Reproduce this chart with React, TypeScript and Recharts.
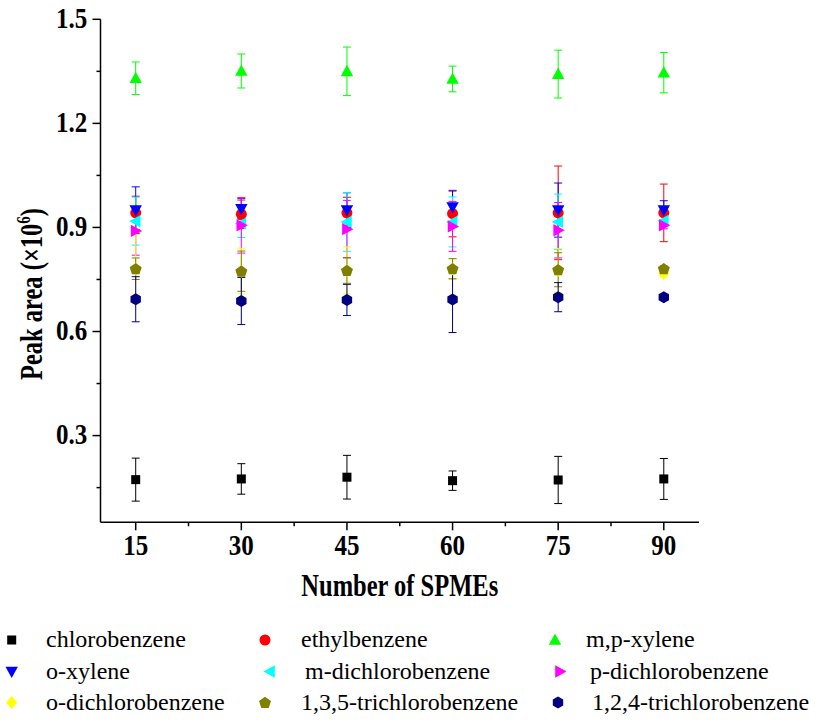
import React from 'react';
import { ScatterChart, Scatter, XAxis, YAxis, ErrorBar } from 'recharts';

// ---- data ----
const xValues = [15, 30, 45, 60, 75, 90];
const xTicks = [15, 22.5, 30, 37.5, 45, 52.5, 60, 67.5, 75, 82.5, 90];
const yTicks = [0.15, 0.3, 0.45, 0.6, 0.75, 0.9, 1.05, 1.2, 1.35, 1.5];

const seriesNames = [
  'chlorobenzene', 'ethylbenzene', 'm,p-xylene',
  'o-xylene', 'm-dichlorobenzene', 'p-dichlorobenzene',
  'o-dichlorobenzene', '1,3,5-trichlorobenzene', '1,2,4-trichlorobenzene',
];

const chlorobenzeneMean = [0.173, 0.175, 0.18, 0.17, 0.172, 0.175];
const chlorobenzeneErr = [0.062, 0.044, 0.063, 0.028, 0.068, 0.059];
const ethylbenzeneMean = [0.942, 0.938, 0.942, 0.94, 0.942, 0.942];
const ethylbenzeneErr = [0.048, 0.041, 0.045, 0.067, 0.135, 0.083];
const mpXyleneMean = [1.33, 1.351, 1.35, 1.328, 1.342, 1.346];
const mpXyleneErr = [0.047, 0.049, 0.07, 0.037, 0.069, 0.058];
const oXyleneMean = [0.95, 0.954, 0.95, 0.959, 0.95, 0.95];
const oXyleneErr = [0.067, 0.03, 0.05, 0.046, 0.078, 0.027];
const mDcbMean = [0.918, 0.911, 0.916, 0.916, 0.916, 0.919];
const mDcbErr = [0.069, 0.04, 0.085, 0.072, 0.08, 0.015];
const pDcbMean = [0.89, 0.906, 0.895, 0.903, 0.892, 0.906];
const pDcbErr = [0.07, 0.08, 0.083, 0.072, 0.08, 0.01];
const oDcbMean = [0.78, 0.774, 0.776, 0.78, 0.776, 0.767];
const oDcbErr = [0.1, 0.066, 0.068, 0.03, 0.063, 0.01];
const tcb135Mean = [0.781, 0.774, 0.776, 0.781, 0.778, 0.781];
const tcb135Err = [0.031, 0.058, 0.037, 0.029, 0.049, 0.008];
const tcb124Mean = [0.693, 0.688, 0.691, 0.692, 0.699, 0.699];
const tcb124Err = [0.065, 0.068, 0.045, 0.095, 0.042, 0.006];

const allMeans = [chlorobenzeneMean, ethylbenzeneMean, mpXyleneMean, oXyleneMean, mDcbMean, pDcbMean, oDcbMean, tcb135Mean, tcb124Mean];
const allErrs = [chlorobenzeneErr, ethylbenzeneErr, mpXyleneErr, oXyleneErr, mDcbErr, pDcbErr, oDcbErr, tcb135Err, tcb124Err];

// ---- styles ----
const colors = ['#000000', '#FF0000', '#00FF00', '#0000FF', '#00FFFF', '#FF00FF', '#FFFF00', '#808000', '#000080'];
const markers = ['square', 'circle', 'up', 'down', 'left', 'right', 'diamond', 'pentagon', 'hexagon'];
const legendMarkerX = [11.7, 265, 555, 11.7, 270, 560, 11.7, 265, 558];
const legendTextX = [46, 301, 586, 46, 305, 590, 46, 301, 592];
const legendBaseline = [647, 678.5, 709.5];

const SERIF = '"Liberation Serif", "Times New Roman", serif';

function polyPoints(cx: number, cy: number, r: number, n: number, rot: number) {
  const pts: string[] = [];
  for (let i = 0; i < n; i++) {
    const a = rot + (i * 2 * Math.PI) / n;
    pts.push(`${cx + r * Math.cos(a)},${cy + r * Math.sin(a)}`);
  }
  return pts.join(' ');
}

function Marker({ type, cx, cy, fill }: { type: string; cx: number; cy: number; fill: string }) {
  if (cx == null || cy == null) return null;
  switch (type) {
    case 'square':
      return <rect x={cx - 4.5} y={cy - 4.5} width={9} height={9} fill={fill} />;
    case 'circle':
      return <circle cx={cx} cy={cy} r={5.5} fill={fill} />;
    case 'up':
      return <polygon points={`${cx},${cy - 6.5} ${cx + 6.2},${cy + 4.8} ${cx - 6.2},${cy + 4.8}`} fill={fill} />;
    case 'down':
      return <polygon points={`${cx},${cy + 6.5} ${cx + 6.2},${cy - 4.8} ${cx - 6.2},${cy - 4.8}`} fill={fill} />;
    case 'left':
      return <polygon points={`${cx - 6.5},${cy} ${cx + 4.8},${cy - 6.2} ${cx + 4.8},${cy + 6.2}`} fill={fill} />;
    case 'right':
      return <polygon points={`${cx + 6.5},${cy} ${cx - 4.8},${cy - 6.2} ${cx - 4.8},${cy + 6.2}`} fill={fill} />;
    case 'diamond':
      return <polygon points={`${cx},${cy - 6.5} ${cx + 5.5},${cy} ${cx},${cy + 6.5} ${cx - 5.5},${cy}`} fill={fill} />;
    case 'pentagon':
      return <polygon points={polyPoints(cx, cy + 0.5, 6.3, 5, -Math.PI / 2)} fill={fill} />;
    case 'hexagon':
      return <polygon points={polyPoints(cx, cy, 6, 6, -Math.PI / 2)} fill={fill} />;
    default:
      return null;
  }
}

const isMultiple = (v: number, step: number) => Math.abs(v / step - Math.round(v / step)) < 1e-6;

const XTick = (props: any) => {
  const { x, y, payload } = props;
  const v = payload.value;
  const major = isMultiple(v, 15);
  return (
    <g>
      <line x1={x} x2={x} y1={y} y2={y + (major ? 8 : 4)} stroke="#000" strokeWidth={1.5} />
      {major && (
        <text
          transform={`translate(${x},${y + 32.7}) scale(1,1.16)`}
          textAnchor="middle"
          fontFamily={SERIF}
          fontWeight="bold"
          fontSize={25}
          fill="#000"
        >
          {v}
        </text>
      )}
    </g>
  );
};

const YTick = (props: any) => {
  const { x, y, payload } = props;
  const v = payload.value;
  const major = isMultiple(v, 0.3);
  return (
    <g>
      <line x1={x - (major ? 8 : 4)} x2={x} y1={y} y2={y} stroke="#000" strokeWidth={1.5} />
      {major && (
        <text
          transform={`translate(${x - 13.2},${y + 8.7}) scale(1,1.16)`}
          textAnchor="end"
          fontFamily={SERIF}
          fontWeight="bold"
          fontSize={25}
          fill="#000"
        >
          {v.toFixed(1)}
        </text>
      )}
    </g>
  );
};

const XTitle = (props: any) => {
  const vb = props.viewBox || {};
  const cx = vb.x + vb.width / 2;
  return (
    <text
      transform={`translate(${cx},596) scale(1,1.25)`}
      textAnchor="middle"
      fontFamily={SERIF}
      fontWeight="bold"
      fontSize={24.5}
      fill="#000"
    >
      Number of SPMEs
    </text>
  );
};

const YTitle = () => (
  <text
    transform="translate(41.5,294) rotate(-90) scale(1,1.25)"
    textAnchor="middle"
    fontFamily={SERIF}
    fontWeight="bold"
    fontSize={24.5}
    fill="#000"
  >
    Peak area (×10
    <tspan dy={-9} fontSize={15}>6</tspan>
    <tspan dy={9}>)</tspan>
  </text>
);

export default function App() {
  const series = seriesNames.map((name, s) => ({
    name,
    data: xValues.map((x, i) => ({ x, y: allMeans[s][i], e: allErrs[s][i] })),
  }));

  return (
    <div style={{ position: 'absolute', left: 0, top: 0, width: 818, height: 722, background: '#fff' }}>
      <ScatterChart
        width={818}
        height={640}
        margin={{ top: 19.3, right: 119, bottom: 0, left: 0 }}
        style={{ position: 'absolute', left: 0, top: 0 }}
      >
        <XAxis
          type="number"
          dataKey="x"
          domain={[10, 95]}
          ticks={xTicks}
          interval={0}
          tickSize={0}
          tickMargin={0}
          tick={<XTick />}
          axisLine={{ stroke: '#000', strokeWidth: 1.5 }}
          height={117.7}
          label={<XTitle />}
        />
        <YAxis
          type="number"
          dataKey="y"
          domain={[0.05, 1.5]}
          ticks={yTicks}
          interval={0}
          tickSize={0}
          tickMargin={0}
          tick={<YTick />}
          axisLine={{ stroke: '#000', strokeWidth: 1.5 }}
          width={100.5}
          label={<YTitle />}
        />
        {series.map((sr, s) => (
          <Scatter
            key={sr.name}
            name={sr.name}
            data={sr.data}
            fill={colors[s]}
            isAnimationActive={false}
            shape={(p: any) => <Marker type={markers[s]} cx={p.cx} cy={p.cy} fill={colors[s]} />}
          >
            <ErrorBar
              dataKey="e"
              direction="y"
              width={4}
              stroke={colors[s]}
              strokeWidth={1}
              isAnimationActive={false}
            />
          </Scatter>
        ))}
      </ScatterChart>
      <svg width={818} height={722} style={{ position: 'absolute', left: 0, top: 0, pointerEvents: 'none' }}>
        {seriesNames.map((name, s) => {
          const row = Math.floor(s / 3);
          const base = legendBaseline[row];
          return (
            <g key={name}>
              <Marker type={markers[s]} cx={legendMarkerX[s]} cy={base - 7} fill={colors[s]} />
              <text x={legendTextX[s]} y={base} fontFamily={SERIF} fontSize={24} fill="#000">
                {name}
              </text>
            </g>
          );
        })}
      </svg>
    </div>
  );
}
